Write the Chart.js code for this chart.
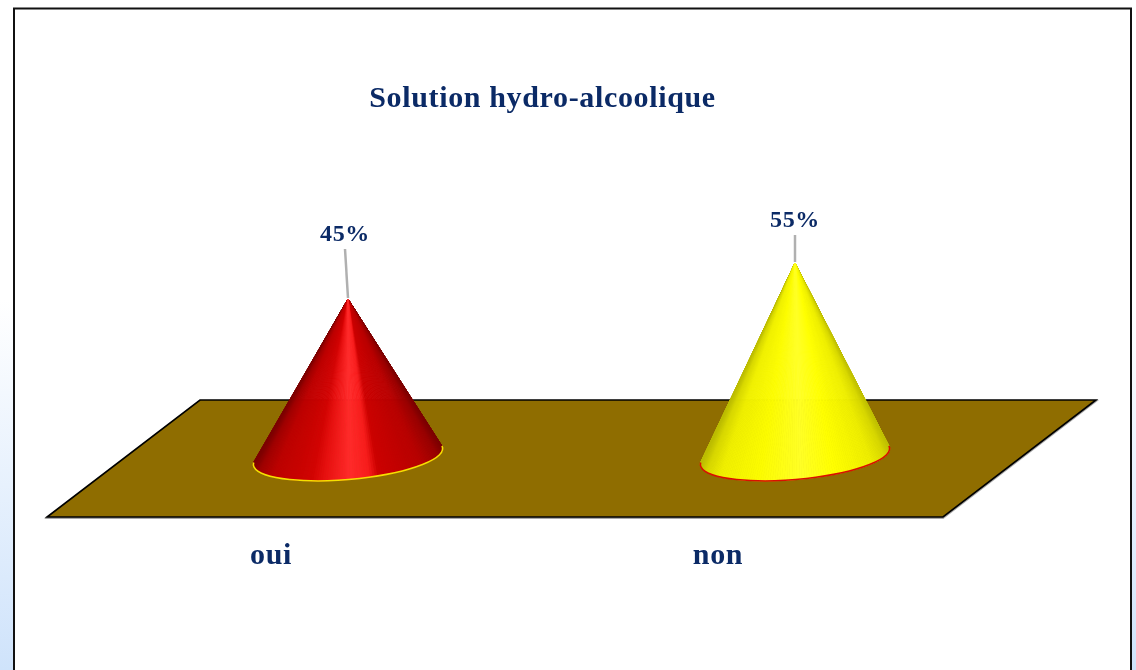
<!DOCTYPE html>
<html lang="fr">
<head>
<meta charset="utf-8">
<title>Solution hydro-alcoolique</title>
<script src="https://cdn.jsdelivr.net/npm/chart.js@4"></script>
<style>
html,body{margin:0;padding:0;background:#fff;overflow:hidden}
canvas{display:block}
</style>
</head>
<body>
<canvas id="c" width="1136" height="670"></canvas>
<script>
const categories = ['oui', 'non'];
const percentValues = [45, 55];
const valueLabels = ['45%', '55%'];
const coneColors = ['#d80000', '#ffff00'];
const rimColors = ['#f5e000', '#d81000'];
const chartTitle = 'Solution hydro-alcoolique';

const NAVY = '#0b2a66';
const SERIF = '"Liberation Serif","Times New Roman",serif';

const shadeStops = [
  [[0,'#7c0000'],[.03,'#a00000'],[.1,'#bc0000'],[.3,'#d20202'],[.37,'#e81010'],[.5,'#ff2a2a'],[.6,'#f81c1c'],[.65,'#cc0000'],[.88,'#b80000'],[.97,'#980000'],[1,'#7c0000']],
  [[0,'#bcbc00'],[.03,'#d8d800'],[.1,'#f0f000'],[.3,'#fcfc00'],[.52,'#ffff26'],[.7,'#ffff00'],[.9,'#eeee00'],[.97,'#d8d800'],[1,'#c0c000']]
];
const leaders = [{dx:-3, len:50}, {dx:0, len:28}];

function hex(c){return [1,3,5].map(i=>parseInt(c.substr(i,2),16));}
function shadeAt(stops,u){
  u=Math.max(0,Math.min(1,u));
  for(let i=1;i<stops.length;i++){
    if(u<=stops[i][0]){
      const [p0,c0]=stops[i-1],[p1,c1]=stops[i];
      const f=(u-p0)/(p1-p0),a=hex(c0),b=hex(c1);
      return `rgb(${a.map((v,k)=>Math.round(v+(b[k]-v)*f)).join(',')})`;
    }
  }
  return stops[stops.length-1][1];
}

const scenePlugin = {
  id:'scene',
  beforeDraw(chart){
    const ctx=chart.ctx,W=chart.width,H=chart.height;
    ctx.letterSpacing='0.65px';
    ctx.save();
    const g=ctx.createLinearGradient(0,300,0,H);
    g.addColorStop(0,'#ffffff');
    g.addColorStop(1,'#cfe3fb');
    ctx.fillStyle='#ffffff';ctx.fillRect(0,0,W,H);
    ctx.fillStyle=g;ctx.fillRect(0,300,13,H-300);ctx.fillRect(1132,300,4,H-300);
    ctx.fillStyle='#ffffff';ctx.fillRect(14,9,1117,H);
    ctx.strokeStyle='#111';ctx.lineWidth=2;
    ctx.beginPath();ctx.moveTo(14,H+5);ctx.lineTo(14,8.5);ctx.lineTo(1131,8.5);ctx.lineTo(1131,H+5);ctx.stroke();
    // floor
    const y0=chart.scales.y.getPixelForValue(0);
    const left=chart.chartArea.left,floor=[[75.5,-61],[971.5,-61],[818.5,56],[-77.5,56]];
    const trace=(dy)=>{ctx.beginPath();floor.forEach((p,i)=>{const x=left+p[0],y=y0+p[1]+dy;i?ctx.lineTo(x,y):ctx.moveTo(x,y);});ctx.closePath();};
    ctx.strokeStyle='#a8a8a8';ctx.lineWidth=2;trace(1);ctx.stroke();
    trace(0);ctx.fillStyle='#8f6d00';ctx.fill();
    ctx.strokeStyle='#000';ctx.lineWidth=1.6;ctx.lineJoin='miter';ctx.stroke();
    ctx.restore();
  },
  beforeDatasetDraw(chart,args){
    const ctx=chart.ctx,ds=chart.data.datasets[args.index],meta=chart.getDatasetMeta(args.index);
    const tilt=-5*Math.PI/180,bMinor=23;
    meta.data.forEach((el,i)=>{
      const cx=el.x,a=el.width/2,cy=el.base-4.5,ax=el.x,ay=el.y;
      const N=240,pt=t=>[cx+a*Math.cos(t)*Math.cos(tilt)-bMinor*Math.sin(t)*Math.sin(tilt),
                         cy+a*Math.cos(t)*Math.sin(tilt)+bMinor*Math.sin(t)*Math.cos(tilt)];
      ctx.save();
      const order=[];
      for(let k=0;k<N;k++){ if(Math.sin((k+.5)/N*2*Math.PI)>-0.14) order.push(k); }
      order.sort((p,q)=>Math.sin((p+.5)/N*2*Math.PI)-Math.sin((q+.5)/N*2*Math.PI));
      order.forEach(k=>{
        const t0=k/N*2*Math.PI,t1=(k+1)/N*2*Math.PI,p0=pt(t0),p1=pt(t1);
        const u=(Math.cos((t0+t1)/2)+1)/2;
        const col=shadeAt(shadeStops[i],u);
        ctx.fillStyle=col;ctx.strokeStyle=col;ctx.lineWidth=.8;
        ctx.beginPath();ctx.moveTo(ax,ay);ctx.lineTo(p0[0],p0[1]);ctx.lineTo(p1[0],p1[1]);ctx.closePath();ctx.fill();ctx.stroke();
      });
      ctx.strokeStyle=ds.borderColor[i];ctx.lineWidth=1.6;
      ctx.beginPath();ctx.ellipse(cx,cy,a,bMinor,tilt,-.1,Math.PI+.1);ctx.stroke();
      // leader and label
      const L=leaders[i],tx=ax+L.dx,ty=ay-L.len;
      ctx.strokeStyle='#b0b0b0';ctx.lineWidth=2.5;
      ctx.beginPath();ctx.moveTo(ax,ay-1);ctx.lineTo(tx,ty);ctx.stroke();
      ctx.fillStyle=NAVY;ctx.font='bold 24px '+SERIF;ctx.textAlign='center';ctx.textBaseline='middle';
      ctx.fillText(valueLabels[i],tx,ty-14);
      ctx.restore();
    });
    return false;
  },
  afterLayout(chart){
    if(chart.titleBlock){chart.titleBlock.left-=29;chart.titleBlock.right-=29;}
  }
};

new Chart(document.getElementById('c'),{
  type:'bar',
  data:{labels:categories,datasets:[{
    data:percentValues,backgroundColor:coneColors,borderColor:rimColors,borderWidth:0,
    categoryPercentage:1,barPercentage:.425
  }]},
  plugins:[scenePlugin],
  options:{
    responsive:false,animation:false,
    layout:{padding:{left:124.5,right:117.5,top:0,bottom:0}},
    plugins:{
      legend:{display:false},tooltip:{enabled:false},
      title:{display:true,text:chartTitle,color:NAVY,align:'center',
        font:{family:SERIF,size:30,weight:'bold',lineHeight:1.2},
        padding:{top:80.8,bottom:56.2}}
    },
    scales:{
      x:{grid:{display:false},border:{display:false},
        afterFit(s){s.height=209;},
        ticks:{color:NAVY,font:{family:SERIF,size:30,weight:'bold'},labelOffset:-77,padding:69,maxRotation:0,autoSkip:false}},
      y:{display:false,min:0,max:80}
    }
  }
});
</script>
</body>
</html>
